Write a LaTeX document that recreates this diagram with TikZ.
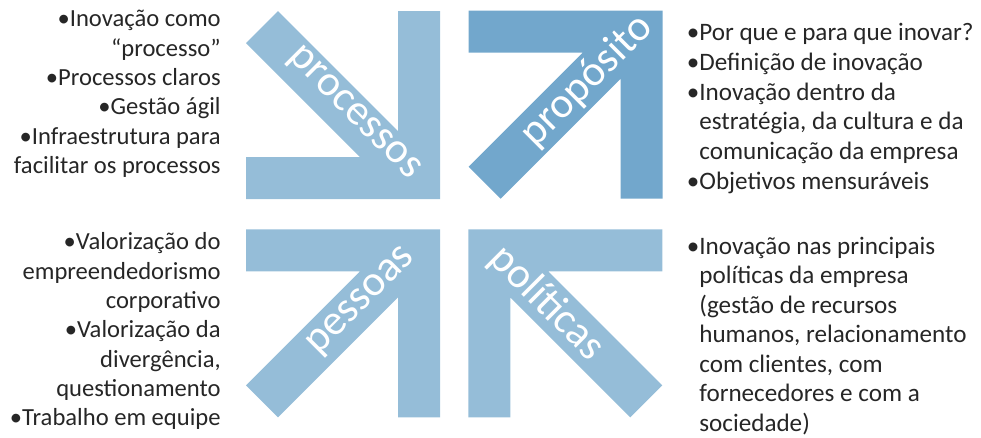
\documentclass[tikz,border=0pt]{standalone}
\usepackage{fontspec}
\setmainfont{Carlito}
\usepackage{tikz}
\usetikzlibrary{positioning}
\definecolor{arrowlight}{HTML}{95BDD8}
\definecolor{arrowdark}{HTML}{72A7CC}
\definecolor{listtext}{HTML}{262626}

\begin{document}
\begin{tikzpicture}[x=0.02cm,y=-0.02cm,
  arrowlabel/.style={text=white,font=\fontsize{24.5}{29}\selectfont,inner sep=0pt},
  itemlist/.style={text=listtext,font=\fontsize{14}{16.7}\selectfont,inner sep=0pt}]
  \clip (0,0) rectangle (981,437);

  % processos: top left, pointing to the centre
  \begin{scope}[shift={(440,199)},xscale=-1,yscale=-1]
    \fill[arrowlight] (0,0) -- (194,0) -- (194,42) -- (80,42) -- (194,156) -- (162,188)
      -- (42,68) -- (42,188) -- (0,188) -- cycle;
  \end{scope}
  \node[arrowlabel,rotate=-45] (lblprocessos) at (353,114) {processos};

  % proposito: top right, pointing outwards
  \begin{scope}[shift={(662.7,10.7)},xscale=-1]
    \fill[arrowdark] (0,0) -- (194,0) -- (194,42) -- (80,42) -- (194,156) -- (162,188)
      -- (42,68) -- (42,188) -- (0,188) -- cycle;
  \end{scope}
  \node[arrowlabel,rotate=45] (lblproposito) at (587,81) {propósito};

  % pessoas: bottom left, pointing to the centre
  \begin{scope}[shift={(440,229.3)},xscale=-1]
    \fill[arrowlight] (0,0) -- (194,0) -- (194,42) -- (80,42) -- (194,156) -- (162,188)
      -- (42,68) -- (42,188) -- (0,188) -- cycle;
  \end{scope}
  \node[arrowlabel,rotate=45] (lblpessoas) at (362,302) {pessoas};

  % politicas: bottom right, pointing to the centre
  \begin{scope}[shift={(468.3,229.3)}]
    \fill[arrowlight] (0,0) -- (194,0) -- (194,42) -- (80,42) -- (194,156) -- (162,188)
      -- (42,68) -- (42,188) -- (0,188) -- cycle;
  \end{scope}
  \node[arrowlabel,rotate=-45] (lblpoliticas) at (547,303) {políticas};

  % Item lists round the arrows
  \node[itemlist,align=right,anchor=north east] (listprocessos) at (221,6)
    {\strut•Inovação como\\“processo”\\•Processos claros\\•Gestão ágil\\
     •Infraestrutura para\\facilitar os processos};
  \node[itemlist,align=left,anchor=north west,
    font=\fontsize{14.3}{17}\selectfont] (listproposito) at (686.5,19)
    {\strut•Por que e para que inovar?\\•Definição de inovação\\•Inovação dentro da\\
     \hphantom{•}estratégia, da cultura e da\\\hphantom{•}comunicação da empresa\\
     •Objetivos mensuráveis};
  \node[itemlist,align=right,anchor=north east] (listpessoas) at (221,229)
    {\strut•Valorização do\\empreendedorismo\\corporativo\\•Valorização da\\
     divergência,\\questionamento\\•Trabalho em equipe};
  \node[itemlist,align=left,anchor=north west,
    font=\fontsize{14.3}{16.8}\selectfont] (listpoliticas) at (686.5,233)
    {\strut•Inovação nas principais\\\hphantom{•}políticas da empresa\\
     \hphantom{•}(gestão de recursos\\\hphantom{•}humanos, relacionamento\\
     \hphantom{•}com clientes, com\\\hphantom{•}fornecedores e com a\\
     \hphantom{•}sociedade)};
\end{tikzpicture}
\end{document}
